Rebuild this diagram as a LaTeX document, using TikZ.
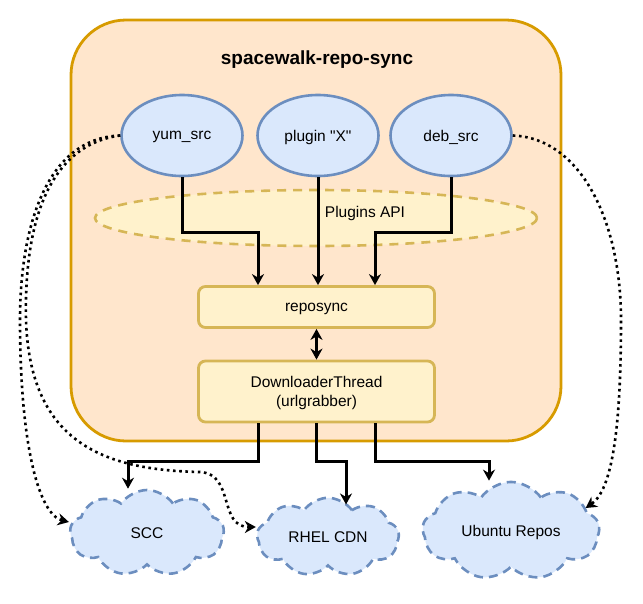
\documentclass[tikz,border=0pt]{standalone}
\usepackage{fontspec}
\setmainfont{Liberation Sans}
\usetikzlibrary{shapes.geometric,shapes.symbols,arrows.meta}
\definecolor{bfill}{HTML}{DAE8FC}
\definecolor{bline}{HTML}{6C8EBF}
\definecolor{yfill}{HTML}{FFF2CC}
\definecolor{yline}{HTML}{D6B656}
\definecolor{ofill}{HTML}{FFE6CC}
\definecolor{oline}{HTML}{D79B00}
\tikzset{
  txt/.style={font=\fontsize{15.5}{18.5}\selectfont,text depth=0pt},
  srcnode/.style={ellipse,draw=bline,fill=bfill,line width=2.6pt,minimum width=121pt,minimum height=81pt,inner sep=0pt,txt},
  boxnode/.style={rectangle,rounded corners=7pt,draw=yline,fill=yfill,line width=2.8pt,minimum width=236pt,inner sep=0pt,align=center,txt},
  cloudnode/.style={cloud,cloud puffs=9,cloud puff arc=110,aspect=1.8,draw=bline,fill=bfill,line width=2.6pt,dash pattern=on 9pt off 6pt,inner sep=0pt,txt},
  arr/.style={line width=3pt,-{Stealth[length=11pt,width=12pt,inset=3.5pt]}},
  dotarr/.style={line width=2.6pt,dash pattern=on 2.6pt off 3.6pt,-{Stealth[length=11pt,width=12pt,inset=3.5pt]}},
}
\begin{document}
\begin{tikzpicture}[x=1pt,y=-1pt]
\useasboundingbox (0,0) rectangle (643,603);
% container
\node[draw=oline,fill=ofill,line width=2.8pt,rounded corners=55pt,minimum width=490pt,minimum height=421pt,inner sep=0pt] (outer) at (316,230.5) {};
\node[font=\bfseries\fontsize{19}{22}\selectfont] (title) at (317,60) {spacewalk-repo-sync};
% plugins api
\node[ellipse,draw=yline,fill=yfill,line width=2.6pt,dash pattern=on 9pt off 7pt,minimum width=442pt,minimum height=56pt,inner sep=0pt,
  label={[xshift=49pt,yshift=6pt,txt]center:Plugins API}] (api) at (316,218) {};
% sources
\node[srcnode] (yum) at (182,135.5) {yum\_src};
\node[srcnode] (plug) at (318,135.5) {plugin \textquotedbl X\textquotedbl};
\node[srcnode] (deb) at (451,135.5) {deb\_src};
% boxes
\node[boxnode,minimum height=41pt] (repo) at (316.5,307) {reposync};
\node[boxnode,minimum height=61pt] (dl) at (316.5,391.5) {DownloaderThread\\(urlgrabber)};
% clouds
\node[cloudnode,minimum width=154pt,minimum height=86pt] (scc) at (147,533) {SCC};
\node[cloudnode,minimum width=142pt,minimum height=76pt] (rhel) at (328,537) {RHEL CDN};
\node[cloudnode,minimum width=177pt,minimum height=82pt] (ubu) at (511,531) {Ubuntu Repos};
% source arrows
\draw[arr] (yum.south) |- (258,232) -- ([xshift=-58.5pt]repo.north);
\draw[arr] (plug.south) -- (plug.south |- repo.north);
\draw[arr] (deb.south) |- (375,232) -- ([xshift=58.5pt]repo.north);
% double arrow
\draw[line width=3pt,{Stealth[length=11pt,width=12pt,inset=3.5pt]}-{Stealth[length=11pt,width=12pt,inset=3.5pt]}] (repo.south) -- (dl.north);
% downloads
\draw[arr] ([xshift=-58.5pt]dl.south) |- (128,461) -- ([xshift=-19pt]scc.north);
\draw[arr] (dl.south) |- (346,461) -- ([xshift=18pt,yshift=-8pt]rhel.north);
\draw[arr] ([xshift=58.5pt]dl.south) |- (489,461) -- ([xshift=-22pt]ubu.north);
% dotted
\draw[dotarr] (yum.west) .. controls (45,138) and (20,230) .. (20,320) .. controls (20,450) and (40,515) .. ([yshift=11pt]scc.west);
\draw[dotarr] (yum.west) .. controls (50,145) and (24,220) .. (26,320) .. controls (30,440) and (100,470) .. (200,472) .. controls (235,474) and (218,527) .. ([yshift=10pt]rhel.west);
\draw[dotarr] (deb.east) .. controls (580,138) and (621,220) .. (621,320) .. controls (621,430) and (612,490) .. ([xshift=-15pt,yshift=23pt]ubu.east);
\end{tikzpicture}
\end{document}
